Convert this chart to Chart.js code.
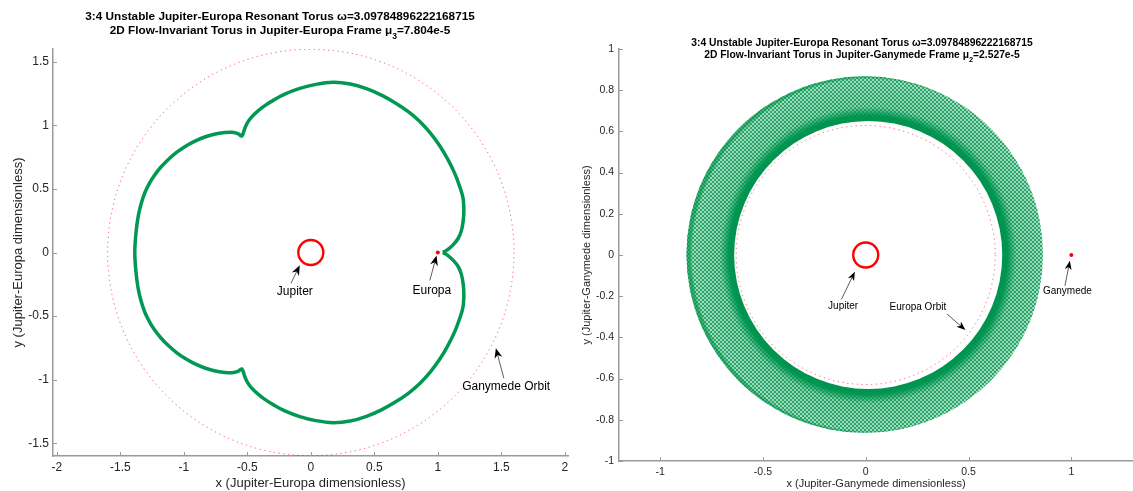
<!DOCTYPE html>
<html>
<head>
<meta charset="utf-8">
<script src="https://cdn.jsdelivr.net/npm/chart.js@4/dist/chart.umd.min.js"></script>
<style>
html, body { margin: 0; padding: 0; background: #fff; }
#wrap { position: relative; width: 1133px; height: 491px; overflow: hidden; }
canvas { position: absolute; top: 0; }
</style>
</head>
<body>
<div id="wrap">
	<canvas id="europa-frame" width="575" height="491" style="left:0"></canvas>
	<canvas id="ganymede-frame" width="558" height="491" style="left:575px"></canvas>
</div>
<script>
const FONT = '"Liberation Sans", Arial, Helvetica, sans-serif';
const INK = '#262626';
const AXIS = '#9a9a9a';
const GREEN = 'rgb(0,152,82)';

// Torus curve in the Jupiter-Europa frame, starting at the kink next to Europa
const torusX = [
	1.04, 1.075, 1.12, 1.16, 1.185, 1.2, 1.205, 1.198, 1.17, 1.134, 1.08, 1.016, 0.94, 0.858, 0.77, 0.675,
	0.56, 0.438, 0.31, 0.176, 0.04, -0.087, -0.205, -0.29, -0.362, -0.42, -0.467, -0.5, -0.52, -0.535, -0.545,
	-0.575, -0.62, -0.677, -0.76, -0.835, -0.92, -0.992, -1.06, -1.124, -1.18, -1.228, -1.27, -1.307, -1.337,
	-1.36, -1.377, -1.386,
	-1.377, -1.36, -1.337, -1.307, -1.27, -1.228, -1.18, -1.124, -1.06, -0.992, -0.92, -0.835, -0.76, -0.677,
	-0.62, -0.575, -0.545, -0.535, -0.52, -0.5, -0.467, -0.42, -0.362, -0.29, -0.205, -0.087, 0.04, 0.176, 0.31,
	0.438, 0.56, 0.675, 0.77, 0.858, 0.94, 1.016, 1.08, 1.134, 1.17, 1.198, 1.205, 1.2, 1.185, 1.16, 1.12,
	1.075, 1.04
];
const torusY = [
	0, 0.02, 0.06, 0.11, 0.17, 0.25, 0.33, 0.43, 0.525, 0.62, 0.73, 0.838, 0.94, 1.03, 1.105, 1.17,
	1.235, 1.288, 1.325, 1.338, 1.322, 1.29, 1.245, 1.2, 1.155, 1.11, 1.065, 1.02, 0.975, 0.93, 0.915,
	0.935, 0.945, 0.943, 0.93, 0.908, 0.872, 0.832, 0.785, 0.73, 0.672, 0.612, 0.545, 0.47, 0.38,
	0.28, 0.15, 0,
	-0.15, -0.28, -0.38, -0.47, -0.545, -0.612, -0.672, -0.73, -0.785, -0.832, -0.872, -0.908, -0.93, -0.943,
	-0.945, -0.935, -0.915, -0.93, -0.975, -1.02, -1.065, -1.11, -1.155, -1.2, -1.245, -1.29, -1.322, -1.338, -1.325,
	-1.288, -1.235, -1.17, -1.105, -1.03, -0.94, -0.838, -0.73, -0.62, -0.525, -0.43, -0.33, -0.25, -0.17, -0.11, -0.06,
	-0.02, 0
];

const jupiterX = [0];
const jupiterY = [0];
const europaX = [1];
const europaY = [0];
const ganymedeX = [1];
const ganymedeY = [0];
const ganymedeOrbitRadius = [1.6];   // in Jupiter-Europa units
const europaOrbitRadius = [0.63];    // in Jupiter-Ganymede units

// Edges of the torus band in the Jupiter-Ganymede frame: [outer, inner]
const bandCenterX = [-0.005, 0.012];
const bandCenterY = [0.002, 0];
const bandRadius = [0.867, 0.652];

const leftXTicks = [-2, -1.5, -1, -0.5, 0, 0.5, 1, 1.5, 2];
const leftYTicks = [-1.5, -1, -0.5, 0, 0.5, 1, 1.5];
const rightXTicks = [-1, -0.5, 0, 0.5, 1];
const rightYTicks = [-1, -0.8, -0.6, -0.4, -0.2, 0, 0.2, 0.4, 0.6, 0.8, 1];

function pts(xs, ys)
{
	return xs.map((x, i) => ({x: x, y: ys[i]}));
}

// radius of a data-space circle, in pixels, through the x scale
function radiusPx(chart, r)
{
	const s = chart.scales.x;
	if (!s) return 0;
	const d = Math.abs(s.getPixelForValue(r) - s.getPixelForValue(0));
	return isFinite(d) ? d : 0;
}

function bandGradient(chart)
{
	const xs = chart.scales.x, ys = chart.scales.y;
	const cx = xs.getPixelForValue(bandCenterX[1]), cy = ys.getPixelForValue(bandCenterY[1]);
	const r0 = radiusPx(chart, bandRadius[1]), r1 = radiusPx(chart, bandRadius[0]);
	if (!isFinite(cx) || !isFinite(cy) || r1 <= r0) return GREEN;
	const g = chart.ctx.createRadialGradient(cx, cy, r0, cx, cy, r1);
	g.addColorStop(0, 'rgb(0,146,78)');
	g.addColorStop(0.12, 'rgb(0,150,80)');
	g.addColorStop(0.32, 'rgb(140,208,172)');
	g.addColorStop(0.94, 'rgb(165,220,190)');
	g.addColorStop(1, 'rgb(60,172,112)');
	return g;
}

function meshPattern()
{
	const c = document.createElement('canvas');
	c.width = 4; c.height = 4;
	const g = c.getContext('2d');
	g.fillStyle = 'rgba(0,148,80,0.75)';
	for (let i = 0; i < 4; i++) {
		g.fillRect(i, i, 1, 1);
		g.fillRect(3 - i, i, 1, 1);
	}
	return g.createPattern(c, 'repeat');
}
const MESH = meshPattern();

function drawRichLine(ctx, parts, cx, cy, size)
{
	const subSize = size * 0.72;
	const font = s => 'bold ' + s + 'px ' + FONT;
	let total = 0;
	for (const [t, sub] of parts) {
		ctx.font = font(sub ? subSize : size);
		total += ctx.measureText(t).width;
	}
	let x = cx - total / 2;
	ctx.textAlign = 'left';
	ctx.textBaseline = 'middle';
	for (const [t, sub] of parts) {
		ctx.font = font(sub ? subSize : size);
		ctx.fillText(t, x, sub ? cy + size * 0.45 : cy);
		x += ctx.measureText(t).width;
	}
}

function drawArrow(ctx, tx, ty, hx, hy, len, half)
{
	const dx = hx - tx, dy = hy - ty;
	const d = Math.hypot(dx, dy);
	const ux = dx / d, uy = dy / d;
	const bx = hx - ux * len, by = hy - uy * len;
	const nx = hx - ux * len * 0.7, ny = hy - uy * len * 0.7;
	ctx.strokeStyle = '#333';
	ctx.lineWidth = 0.8;
	ctx.beginPath();
	ctx.moveTo(tx, ty);
	ctx.lineTo(nx, ny);
	ctx.stroke();
	ctx.fillStyle = '#000';
	ctx.beginPath();
	ctx.moveTo(hx, hy);
	ctx.lineTo(bx - uy * half, by + ux * half);
	ctx.lineTo(nx, ny);
	ctx.lineTo(bx + uy * half, by - ux * half);
	ctx.closePath();
	ctx.fill();
}

// titles, arrows with labels, inward tick marks, dotted circle outlines
const plotDecor = {
	id: 'plotDecor',
	beforeDatasetDraw(chart, args)
	{
		const ds = chart.data.datasets[args.index];
		if (ds.dotted) chart.ctx.setLineDash(ds.dotted);
	},
	afterDatasetDraw(chart)
	{
		chart.ctx.setLineDash([]);
	},
	afterDraw(chart, args, opts)
	{
		const ctx = chart.ctx;
		const xs = chart.scales.x, ys = chart.scales.y;
		const area = chart.chartArea;
		ctx.save();

		// inward ticks
		ctx.strokeStyle = AXIS;
		ctx.lineWidth = 1;
		ctx.beginPath();
		xs.ticks.forEach(t => {
			const p = Math.round(xs.getPixelForValue(t.value)) + 0.5;
			ctx.moveTo(p, area.bottom);
			ctx.lineTo(p, area.bottom - 4);
		});
		ys.ticks.forEach(t => {
			const p = Math.round(ys.getPixelForValue(t.value)) + 0.5;
			ctx.moveTo(area.left, p);
			ctx.lineTo(area.left + 4, p);
		});
		ctx.stroke();

		// annotations
		opts.notes.forEach(n => {
			drawArrow(ctx,
				xs.getPixelForValue(n.tail[0]), ys.getPixelForValue(n.tail[1]),
				xs.getPixelForValue(n.head[0]), ys.getPixelForValue(n.head[1]),
				opts.arrowLen, opts.arrowHalf);
			ctx.fillStyle = '#000';
			ctx.font = opts.noteSize + 'px ' + FONT;
			ctx.textAlign = 'center';
			ctx.textBaseline = 'middle';
			ctx.fillText(n.label, xs.getPixelForValue(n.text[0]), ys.getPixelForValue(n.text[1]));
		});

		// title
		ctx.fillStyle = '#000';
		opts.title.forEach((line, i) => drawRichLine(ctx, line, opts.titleX, opts.titleY[i], opts.titleSize));
		ctx.restore();
	}
};

function axisOptions(cfg)
{
	return {
		type: 'linear',
		min: cfg.min,
		max: cfg.max,
		afterBuildTicks: s => { s.ticks = cfg.ticks.map(v => ({value: v})); },
		afterFit: cfg.fit,
		grid: {display: false, drawTicks: false},
		border: {display: true, color: AXIS, width: 1.5},
		ticks: {
			padding: cfg.pad, color: INK, autoSkip: false, maxRotation: 0, includeBounds: false,
			font: {family: FONT, size: cfg.size},
			callback: v => String(v)
		},
		title: {
			display: true, text: cfg.label, color: INK,
			font: {family: FONT, size: cfg.titleSize}, padding: cfg.titlePad
		}
	};
}

function baseOptions(cfg)
{
	return {
		responsive: false,
		devicePixelRatio: 1,
		animation: false,
		events: [],
		layout: {padding: cfg.padding, autoPadding: false},
		plugins: {legend: {display: false}, tooltip: {enabled: false}, plotDecor: cfg.decor},
		scales: {x: cfg.x, y: cfg.y}
	};
}

// Left: Jupiter-Europa frame
new Chart(document.getElementById('europa-frame'), {
	type: 'scatter',
	data: {
		datasets: [{
			label: 'Jupiter', data: pts(jupiterX, jupiterY), order: 0,
			pointRadius: 12.5, pointBorderWidth: 2.4, pointBorderColor: '#ff0000', pointBackgroundColor: 'rgba(0,0,0,0)'
		}, {
			label: 'Europa', data: pts(europaX, europaY), order: 0,
			pointRadius: 2, pointBorderWidth: 0, pointBackgroundColor: '#ff0000'
		}, {
			label: 'Torus', data: pts(torusX, torusY), order: 1, showLine: true,
			borderColor: GREEN, borderWidth: 3.5, tension: 0.35, pointRadius: 0,
			borderJoinStyle: 'round'
		}, {
			label: 'Ganymede Orbit', data: pts(jupiterX, jupiterY), order: 2, dotted: [1.2, 3.6],
			pointRadius: c => radiusPx(c.chart, ganymedeOrbitRadius[0]),
			pointBorderWidth: 1, pointBorderColor: 'rgba(255,30,30,0.75)', pointBackgroundColor: 'rgba(0,0,0,0)'
		}]
	},
	options: baseOptions({
		padding: {left: 0, top: 49, right: 7, bottom: 0},
		x: axisOptions({
			min: -2.03, max: 2.025, ticks: leftXTicks, size: 12, pad: 4.8, titleSize: 13,
			label: 'x (Jupiter-Europa dimensionless)', titlePad: {top: 0, bottom: 0},
			fit: s => { s.height = 35; }
		}),
		y: axisOptions({
			min: -1.6, max: 1.6, ticks: leftYTicks, size: 12, pad: 4, titleSize: 13,
			label: 'y (Jupiter-Europa dimensionless)', titlePad: {top: 10.2, bottom: 0},
			fit: s => { s.width = 53; }
		}),
		decor: {
			titleX: 280, titleY: [16.5, 31], titleSize: 11.75,
			title: [
				[['3:4 Unstable Jupiter-Europa Resonant Torus ω=3.09784896222168715', false]],
				[['2D Flow-Invariant Torus in Jupiter-Europa Frame μ', false], ['3', true], ['=7.804e-5', false]]
			],
			noteSize: 12, arrowLen: 10, arrowHalf: 4,
			notes: [
				{label: 'Jupiter', text: [-0.126, -0.306], tail: [-0.157, -0.243], head: [-0.087, -0.1]},
				{label: 'Europa', text: [0.953, -0.298], tail: [0.937, -0.22], head: [0.99, -0.024]},
				{label: 'Ganymede Orbit', text: [1.538, -1.055], tail: [1.52, -0.99], head: [1.457, -0.752]}
			]
		}
	}),
	plugins: [plotDecor]
});

// Right: Jupiter-Ganymede frame
new Chart(document.getElementById('ganymede-frame'), {
	type: 'scatter',
	data: {
		datasets: [{
			label: 'Jupiter', data: pts(jupiterX, jupiterY), order: 0,
			pointRadius: 12.5, pointBorderWidth: 2.4, pointBorderColor: '#ff0000', pointBackgroundColor: 'rgba(0,0,0,0)'
		}, {
			label: 'Ganymede', data: pts(ganymedeX, ganymedeY), order: 0,
			pointRadius: 2, pointBorderWidth: 0, pointBackgroundColor: '#ff0000'
		}, {
			label: 'Europa Orbit', data: pts(jupiterX, jupiterY), order: 1, dotted: [1.2, 3.6],
			pointRadius: c => radiusPx(c.chart, europaOrbitRadius[0]),
			pointBorderWidth: 1, pointBorderColor: 'rgba(255,30,30,0.7)', pointBackgroundColor: 'rgba(0,0,0,0)'
		}, {
			label: 'Torus inner edge', data: [{x: bandCenterX[1], y: bandCenterY[1]}], order: 2,
			pointRadius: c => radiusPx(c.chart, bandRadius[1]),
			pointBorderWidth: 0, pointBackgroundColor: '#ffffff'
		}, {
			label: 'Torus mesh', data: [{x: bandCenterX[0], y: bandCenterY[0]}], order: 3,
			pointRadius: c => radiusPx(c.chart, bandRadius[0]),
			pointBorderWidth: 0, pointBackgroundColor: MESH
		}, {
			label: 'Torus band', data: [{x: bandCenterX[0], y: bandCenterY[0]}], order: 4,
			pointRadius: c => radiusPx(c.chart, bandRadius[0]),
			pointBorderWidth: 0, pointBackgroundColor: c => bandGradient(c.chart)
		}]
	},
	options: baseOptions({
		padding: {left: 0, top: 49, right: 0, bottom: 0},
		x: axisOptions({
			min: -1.2, max: 1.3, ticks: rightXTicks, size: 10.5, pad: 4.4, titleSize: 11,
			label: 'x (Jupiter-Ganymede dimensionless)', titlePad: {top: 0, bottom: 0.4},
			fit: s => { s.height = 30; }
		}),
		y: axisOptions({
			min: -1, max: 1, ticks: rightYTicks, size: 10.5, pad: 5, titleSize: 11,
			label: 'y (Jupiter-Ganymede dimensionless)', titlePad: {top: 5.4, bottom: 0},
			fit: s => { s.width = 44; }
		}),
		decor: {
			titleX: 287, titleY: [43, 55.5], titleSize: 10.3,
			title: [
				[['3:4 Unstable Jupiter-Europa Resonant Torus ω=3.09784896222168715', false]],
				[['2D Flow-Invariant Torus in Jupiter-Ganymede Frame μ', false], ['2', true], ['=2.527e-5', false]]
			],
			noteSize: 10, arrowLen: 9, arrowHalf: 3.5,
			notes: [
				{label: 'Jupiter', text: [-0.11, -0.248], tail: [-0.118, -0.215], head: [-0.053, -0.081]},
				{label: 'Europa Orbit', text: [0.254, -0.252], tail: [0.395, -0.286], head: [0.485, -0.364]},
				{label: 'Ganymede', text: [0.981, -0.175], tail: [0.969, -0.15], head: [0.993, -0.028]}
			]
		}
	}),
	plugins: [plotDecor]
});
</script>
</body>
</html>
